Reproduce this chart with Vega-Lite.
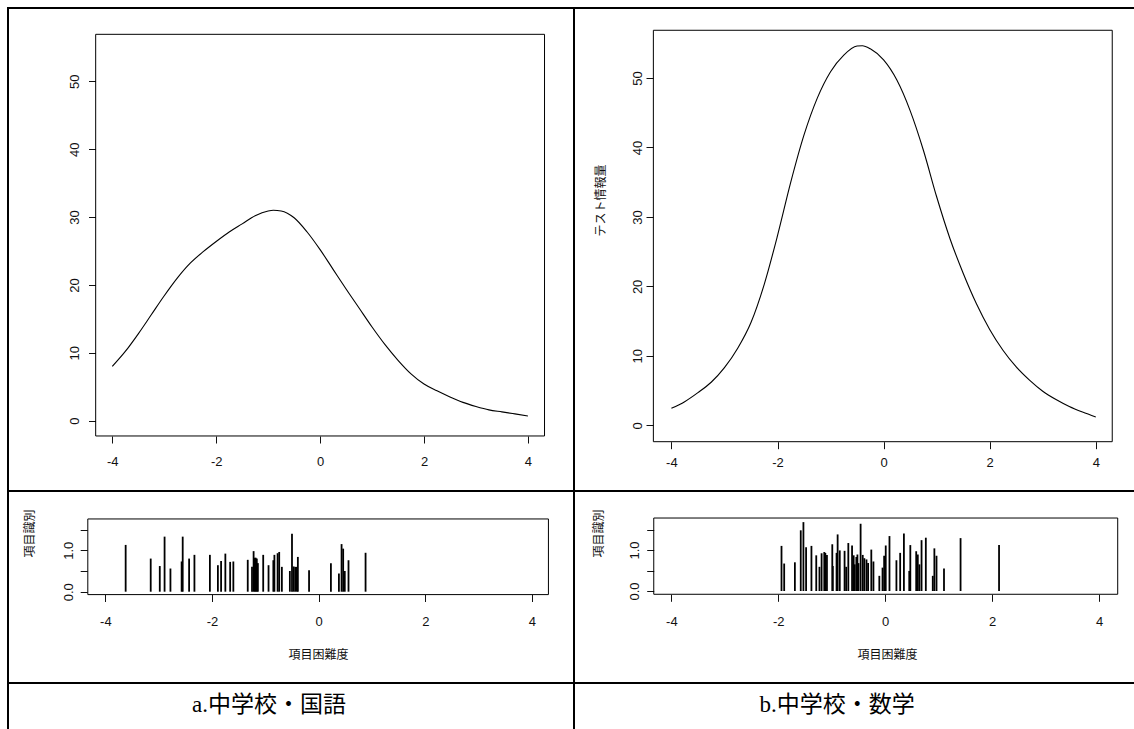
{
  "$schema": "https://vega.github.io/schema/vega-lite/v6.json",
  "background": "white",
  "padding": {"left": 7, "top": 7, "right": -2, "bottom": -2},
  "config": {
    "view": {"stroke": "black", "strokeWidth": 2},
    "axis": {"grid": false, "domain": false, "labelFont": "Liberation Sans", "labelFontSize": 13, "labelColor": "#111", "tickColor": "#111", "tickSize": 7, "tickWidth": 1, "titleFont": "Noto Sans CJK JP", "titleFontSize": 12, "titleFontWeight": "normal", "titleColor": "#111", "labelOverlap": false, "labelFlush": false}
  },
  "datasets": {
    "curveA": [
      {"theta": -4.0, "info": 8.0}, {"theta": -3.75, "info": 10.2}, {"theta": -3.5, "info": 12.8}, {"theta": -3.25, "info": 15.6},
      {"theta": -3.0, "info": 18.4}, {"theta": -2.75, "info": 21.0}, {"theta": -2.5, "info": 23.2}, {"theta": -2.25, "info": 24.9},
      {"theta": -2.0, "info": 26.4}, {"theta": -1.75, "info": 27.8}, {"theta": -1.5, "info": 29.0}, {"theta": -1.25, "info": 30.2},
      {"theta": -1.0, "info": 30.9}, {"theta": -0.9, "info": 31.0}, {"theta": -0.75, "info": 30.9}, {"theta": -0.5, "info": 29.9},
      {"theta": -0.25, "info": 27.8}, {"theta": 0.0, "info": 25.2}, {"theta": 0.25, "info": 22.3}, {"theta": 0.5, "info": 19.4},
      {"theta": 0.75, "info": 16.6}, {"theta": 1.0, "info": 13.8}, {"theta": 1.25, "info": 11.2}, {"theta": 1.5, "info": 8.9},
      {"theta": 1.75, "info": 6.9}, {"theta": 2.0, "info": 5.4}, {"theta": 2.25, "info": 4.4}, {"theta": 2.5, "info": 3.5},
      {"theta": 2.75, "info": 2.7}, {"theta": 3.0, "info": 2.1}, {"theta": 3.25, "info": 1.6}, {"theta": 3.5, "info": 1.3},
      {"theta": 3.75, "info": 1.0}, {"theta": 4.0, "info": 0.7}
    ],
    "curveB": [
      {"theta": -4.0, "info": 2.45}, {"theta": -3.75, "info": 3.4}, {"theta": -3.5, "info": 4.7}, {"theta": -3.25, "info": 6.2},
      {"theta": -3.0, "info": 8.3}, {"theta": -2.75, "info": 11.1}, {"theta": -2.5, "info": 14.8}, {"theta": -2.25, "info": 20.3},
      {"theta": -2.0, "info": 27.3}, {"theta": -1.75, "info": 35.0}, {"theta": -1.5, "info": 41.8}, {"theta": -1.25, "info": 47.1},
      {"theta": -1.0, "info": 50.9}, {"theta": -0.75, "info": 53.3}, {"theta": -0.5, "info": 54.6}, {"theta": -0.4, "info": 54.65},
      {"theta": -0.25, "info": 54.2}, {"theta": 0.0, "info": 52.6}, {"theta": 0.25, "info": 49.7}, {"theta": 0.5, "info": 45.3},
      {"theta": 0.75, "info": 39.6}, {"theta": 1.0, "info": 32.9}, {"theta": 1.25, "info": 26.9}, {"theta": 1.5, "info": 21.9},
      {"theta": 1.75, "info": 17.5}, {"theta": 2.0, "info": 13.8}, {"theta": 2.25, "info": 10.8}, {"theta": 2.5, "info": 8.4},
      {"theta": 2.75, "info": 6.5}, {"theta": 3.0, "info": 4.9}, {"theta": 3.25, "info": 3.7}, {"theta": 3.5, "info": 2.7},
      {"theta": 3.75, "info": 1.9}, {"theta": 4.0, "info": 1.2}
    ],
    "itemsA": [
      {"b": -3.62, "a": 1.13}, {"b": -3.15, "a": 0.80}, {"b": -2.98, "a": 0.62}, {"b": -2.89, "a": 1.33}, {"b": -2.78, "a": 0.56},
      {"b": -2.57, "a": 0.73}, {"b": -2.55, "a": 1.33}, {"b": -2.43, "a": 0.80}, {"b": -2.33, "a": 0.89}, {"b": -2.04, "a": 0.89},
      {"b": -1.89, "a": 0.64}, {"b": -1.83, "a": 0.74}, {"b": -1.75, "a": 0.92}, {"b": -1.66, "a": 0.72}, {"b": -1.60, "a": 0.73},
      {"b": -1.33, "a": 0.77}, {"b": -1.25, "a": 0.60}, {"b": -1.22, "a": 0.98}, {"b": -1.20, "a": 0.82}, {"b": -1.18, "a": 0.82},
      {"b": -1.16, "a": 0.80}, {"b": -1.14, "a": 0.69}, {"b": -1.04, "a": 0.89}, {"b": -0.94, "a": 0.64}, {"b": -0.85, "a": 0.76},
      {"b": -0.83, "a": 0.89}, {"b": -0.77, "a": 0.93}, {"b": -0.74, "a": 0.96}, {"b": -0.69, "a": 0.60}, {"b": -0.54, "a": 0.50},
      {"b": -0.50, "a": 1.40}, {"b": -0.47, "a": 0.61}, {"b": -0.44, "a": 0.60}, {"b": -0.41, "a": 0.60}, {"b": -0.39, "a": 0.84},
      {"b": -0.18, "a": 0.52}, {"b": 0.23, "a": 0.69}, {"b": 0.38, "a": 0.44}, {"b": 0.43, "a": 1.15}, {"b": 0.46, "a": 1.04},
      {"b": 0.49, "a": 0.50}, {"b": 0.56, "a": 0.76}, {"b": 0.88, "a": 0.94}
    ],
    "itemsB": [
      {"b": -1.94, "a": 1.10}, {"b": -1.89, "a": 0.67}, {"b": -1.69, "a": 0.70}, {"b": -1.58, "a": 1.48}, {"b": -1.53, "a": 1.68},
      {"b": -1.48, "a": 1.07}, {"b": -1.38, "a": 1.10}, {"b": -1.29, "a": 0.87}, {"b": -1.23, "a": 0.59}, {"b": -1.19, "a": 0.92},
      {"b": -1.14, "a": 0.95}, {"b": -1.12, "a": 0.93}, {"b": -1.09, "a": 0.88}, {"b": -0.99, "a": 1.14}, {"b": -0.98, "a": 0.61},
      {"b": -0.91, "a": 0.93}, {"b": -0.89, "a": 1.38}, {"b": -0.85, "a": 0.99}, {"b": -0.76, "a": 0.98}, {"b": -0.73, "a": 0.59},
      {"b": -0.69, "a": 1.17}, {"b": -0.62, "a": 1.11}, {"b": -0.59, "a": 0.87}, {"b": -0.57, "a": 0.65}, {"b": -0.54, "a": 0.83},
      {"b": -0.52, "a": 0.89}, {"b": -0.50, "a": 0.68}, {"b": -0.46, "a": 1.64}, {"b": -0.42, "a": 0.88}, {"b": -0.39, "a": 0.80},
      {"b": -0.35, "a": 0.77}, {"b": -0.32, "a": 0.68}, {"b": -0.26, "a": 1.01}, {"b": -0.22, "a": 0.72}, {"b": -0.11, "a": 0.37},
      {"b": -0.05, "a": 0.57}, {"b": -0.02, "a": 0.86}, {"b": 0.01, "a": 1.11}, {"b": 0.08, "a": 1.34}, {"b": 0.21, "a": 0.75},
      {"b": 0.28, "a": 0.93}, {"b": 0.35, "a": 1.40}, {"b": 0.45, "a": 0.49}, {"b": 0.47, "a": 1.12}, {"b": 0.58, "a": 0.97},
      {"b": 0.61, "a": 0.89}, {"b": 0.64, "a": 0.65}, {"b": 0.68, "a": 1.24}, {"b": 0.76, "a": 1.30}, {"b": 0.89, "a": 0.37},
      {"b": 0.92, "a": 1.04}, {"b": 0.96, "a": 0.86}, {"b": 1.10, "a": 0.55}, {"b": 1.41, "a": 1.29}, {"b": 2.13, "a": 1.12}
    ],
    "capA": [{"label": "a.中学校・国語"}],
    "capB": [{"label": "b.中学校・数学"}]
  },
  "concat": [
    {
      "width": 566, "height": 483,
      "layer": [
        {
          "data": {"name": "curveA"},
          "mark": {"type": "line", "color": "black", "strokeWidth": 1.1, "interpolate": "monotone"},
          "encoding": {
            "x": {"field": "theta", "type": "quantitative", "scale": {"domain": [-4, 4], "range": [104.3, 519.9], "nice": false, "zero": false}, "axis": {"values": [-4, -2, 0, 2, 4], "labelExpr": "'' + datum.value", "offset": -55, "labelPadding": 12, "title": null}},
            "y": {"field": "info", "type": "quantitative", "scale": {"domain": [0, 50], "range": [412.7, 73.3], "nice": false, "zero": false}, "axis": {"values": [0, 10, 20, 30, 40, 50], "labelExpr": "'' + datum.value", "offset": -87.5, "labelAngle": 270, "labelAlign": "center", "labelBaseline": "alphabetic", "labelPadding": 10, "title": null}}
          }
        },
        {
          "data": {"values": [{}]},
          "mark": {"type": "rect", "fill": null, "stroke": "black", "strokeWidth": 1},
          "encoding": {
            "x": {"datum": -4.32, "type": "quantitative"}, "x2": {"datum": 4.32},
            "y": {"datum": -2.25, "type": "quantitative"}, "y2": {"datum": 56.92}
          }
        }
      ]
    },
    {
      "width": 562, "height": 483,
      "layer": [
        {
          "data": {"name": "curveB"},
          "mark": {"type": "line", "color": "black", "strokeWidth": 1.1, "interpolate": "monotone"},
          "encoding": {
            "x": {"field": "theta", "type": "quantitative", "scale": {"domain": [-4, 4], "range": [97.4, 521.8], "nice": false, "zero": false}, "axis": {"values": [-4, -2, 0, 2, 4], "labelExpr": "'' + datum.value", "offset": -49.3, "labelPadding": 8, "title": null}},
            "y": {"field": "info", "type": "quantitative", "scale": {"domain": [0, 50], "range": [417.3, 70], "nice": false, "zero": false}, "axis": {"values": [0, 10, 20, 30, 40, 50], "labelExpr": "'' + datum.value", "offset": -79, "labelAngle": 270, "labelAlign": "center", "labelBaseline": "alphabetic", "labelPadding": 5, "title": "テスト情報量", "titleX": -53, "titleY": 192, "titleAngle": 270, "titleAlign": "center", "titleBaseline": "middle"}}
          }
        },
        {
          "data": {"values": [{}]},
          "mark": {"type": "rect", "fill": null, "stroke": "black", "strokeWidth": 1},
          "encoding": {
            "x": {"datum": -4.34, "type": "quantitative"}, "x2": {"datum": 4.31},
            "y": {"datum": -2.36, "type": "quantitative"}, "y2": {"datum": 56.87}
          }
        }
      ]
    },
    {
      "width": 566, "height": 192,
      "layer": [
        {
          "data": {"name": "itemsA"},
          "mark": {"type": "rule", "color": "black", "strokeWidth": 1.8},
          "encoding": {
            "x": {"field": "b", "type": "quantitative", "scale": {"domain": [-4, 4], "range": [97.4, 523.9], "nice": false, "zero": false}, "axis": {"values": [-4, -2, 0, 2, 4], "labelExpr": "'' + datum.value", "offset": -88.5, "labelPadding": 14, "title": "項目困難度", "titleX": 310, "titleY": 60, "titleBaseline": "middle", "titleAlign": "center"}},
            "y": {"field": "a", "type": "quantitative", "scale": {"domain": [0, 1.5], "range": [100.7, 38.6], "nice": false, "zero": false}, "axis": {"values": [0, 0.5, 1, 1.5], "labelExpr": "datum.value == 0 ? '0.0' : datum.value == 1 ? '1.0' : ''", "offset": -79.2, "labelAngle": 270, "labelAlign": "center", "labelBaseline": "alphabetic", "labelPadding": 8, "title": "項目識別", "titleX": -58, "titleY": 42, "titleAngle": 270, "titleAlign": "center", "titleBaseline": "middle"}},
            "y2": {"datum": 0}
          }
        },
        {
          "data": {"values": [{}]},
          "mark": {"type": "rect", "fill": null, "stroke": "black", "strokeWidth": 1},
          "encoding": {
            "x": {"datum": -4.33, "type": "quantitative"}, "x2": {"datum": 4.31},
            "y": {"datum": -0.07, "type": "quantitative"}, "y2": {"datum": 1.757}
          }
        }
      ]
    },
    {
      "width": 562, "height": 192,
      "layer": [
        {
          "data": {"name": "itemsB"},
          "mark": {"type": "rule", "color": "black", "strokeWidth": 1.8},
          "encoding": {
            "x": {"field": "b", "type": "quantitative", "scale": {"domain": [-4, 4], "range": [97.4, 525], "nice": false, "zero": false}, "axis": {"values": [-4, -2, 0, 2, 4], "labelExpr": "'' + datum.value", "offset": -88.7, "labelPadding": 14, "title": "項目困難度", "titleX": 313, "titleY": 60, "titleBaseline": "middle", "titleAlign": "center"}},
            "y": {"field": "a", "type": "quantitative", "scale": {"domain": [0, 1.5], "range": [100, 38.5], "nice": false, "zero": false}, "axis": {"values": [0, 0.5, 1, 1.5], "labelExpr": "datum.value == 0 ? '0.0' : datum.value == 1 ? '1.0' : ''", "offset": -79.7, "labelAngle": 270, "labelAlign": "center", "labelBaseline": "alphabetic", "labelPadding": 8, "title": "項目識別", "titleX": -55, "titleY": 42, "titleAngle": 270, "titleAlign": "center", "titleBaseline": "middle"}},
            "y2": {"datum": 0}
          }
        },
        {
          "data": {"values": [{}]},
          "mark": {"type": "rect", "fill": null, "stroke": "black", "strokeWidth": 1},
          "encoding": {
            "x": {"datum": -4.33, "type": "quantitative"}, "x2": {"datum": 4.35},
            "y": {"datum": -0.08, "type": "quantitative"}, "y2": {"datum": 1.78}
          }
        }
      ]
    },
    {
      "width": 566, "height": 48,
      "data": {"name": "capA"},
      "mark": {"type": "text", "font": "Liberation Serif, Noto Sans CJK JP", "fontSize": 23, "color": "black", "baseline": "middle", "align": "center", "dx": -22},
      "encoding": {
        "text": {"field": "label"},
        "x": {"datum": 0, "type": "quantitative", "scale": {"domain": [-1, 1]}, "axis": null},
        "y": {"datum": 0.1, "type": "quantitative", "scale": {"domain": [-1, 1]}, "axis": null}
      }
    },
    {
      "width": 562, "height": 48,
      "data": {"name": "capB"},
      "mark": {"type": "text", "font": "Liberation Serif, Noto Sans CJK JP", "fontSize": 23, "color": "black", "baseline": "middle", "align": "center", "dx": -18},
      "encoding": {
        "text": {"field": "label"},
        "x": {"datum": 0, "type": "quantitative", "scale": {"domain": [-1, 1]}, "axis": null},
        "y": {"datum": 0.1, "type": "quantitative", "scale": {"domain": [-1, 1]}, "axis": null}
      }
    }
  ],
  "columns": 2,
  "spacing": 0,
  "bounds": "flush"
}
